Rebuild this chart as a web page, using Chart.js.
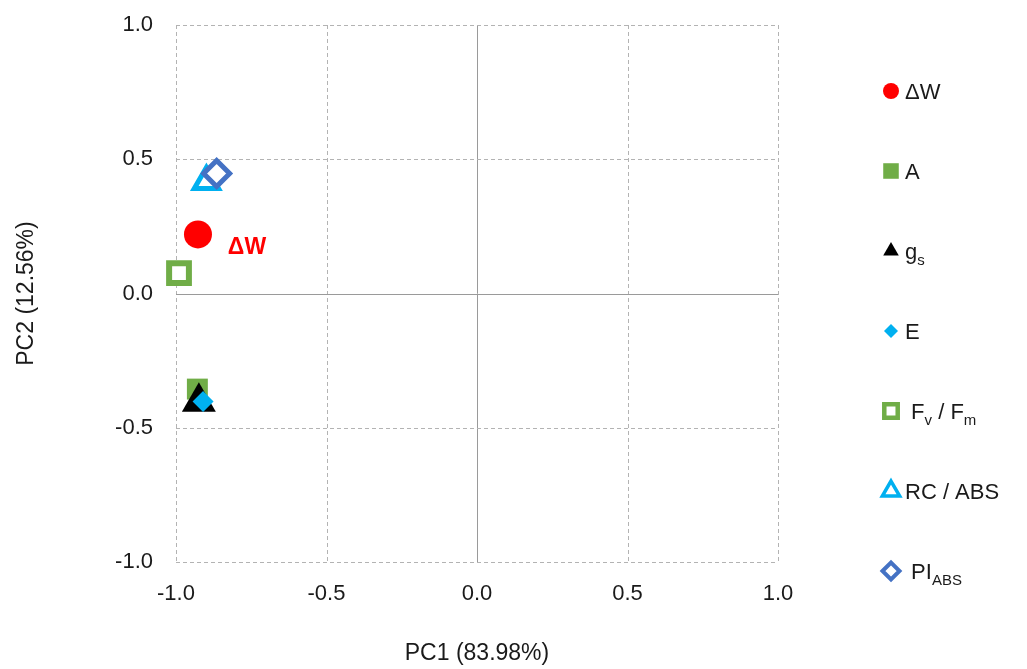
<!DOCTYPE html>
<html>
<head>
<meta charset="utf-8">
<script src="https://cdn.jsdelivr.net/npm/chart.js"></script>
<style>
  html, body { margin: 0; padding: 0; background: #fff; }
  #wrap { width: 1027px; height: 669px; position: relative; }
</style>
</head>
<body>
<div id="wrap"><canvas id="c"></canvas></div>
<script>
// ---- data ----
const seriesNames = ['ΔW', 'A', 'gs', 'E', 'Fv / Fm', 'RC / ABS', 'PIABS'];
const pc1 = [-0.927, -0.929, -0.924, -0.910, -0.990, -0.899, -0.865];
const pc2 = [0.220, -0.356, -0.404, -0.402, 0.076, 0.417, 0.447];
const axisTicks = [-1.0, -0.5, 0.0, 0.5, 1.0];
const xTitle = 'PC1 (83.98%)';
const yTitle = 'PC2 (12.56%)';
// legend text with subscripts: [text, isSubscript]
const legendParts = [
  [['ΔW', 0]],
  [['A', 0]],
  [['g', 0], ['s', 1]],
  [['E', 0]],
  [[' F', 0], ['v', 1], [' / F', 0], ['m', 1]],
  [['RC / ABS', 0]],
  [[' PI', 0], ['ABS', 1]]
];
const pointLabelText = 'ΔW';

// ---- styles ----
const FONT = '"Liberation Sans", Arial, sans-serif';
const styles = [
  { pointStyle: 'circle',   radius: 14,  bg: '#FF0000', border: '#FF0000', bw: 0,   lr: 8,  lbw: 0 },
  { pointStyle: 'rect',     radius: 14.8,bg: '#70AD47', border: '#70AD47', bw: 0,   lr: 11, lbw: 0 },
  { pointStyle: 'triangle', radius: 19.6,bg: '#000000', border: '#000000', bw: 0,   lr: 9,  lbw: 0 },
  { pointStyle: 'rectRot',  radius: 10.5,bg: '#00B0F0', border: '#00B0F0', bw: 0,   lr: 7,  lbw: 0 },
  { pointStyle: 'rect',     radius: 14,  bg: '#FFFFFF', border: '#70AD47', bw: 6,   lr: 9.5,lbw: 4.5 },
  { pointStyle: 'triangle', radius: 14,  bg: '#FFFFFF', border: '#00B0F0', bw: 5,   lr: 10, lbw: 3.5 },
  { pointStyle: 'rectRot',  radius: 13,  bg: '#FFFFFF', border: '#4472C4', bw: 5,   lr: 8.5,lbw: 4 }
];

const datasets = seriesNames.map((name, i) => ({
  label: name,
  data: [{ x: pc1[i], y: pc2[i] }],
  pointStyle: styles[i].pointStyle,
  pointRadius: styles[i].radius,
  pointHoverRadius: styles[i].radius,
  pointBackgroundColor: styles[i].bg,
  pointBorderColor: styles[i].border,
  pointBorderWidth: styles[i].bw,
  showLine: false,
  order: seriesNames.length - i,
  clip: false
}));

// grid lines drawn from the scales' ticks
const gridPlugin = {
  id: 'dashGrid',
  beforeDatasetsDraw(chart) {
    const { ctx, chartArea: a, scales: { x, y } } = chart;
    ctx.save();
    ctx.lineWidth = 1;
    const line = (x1, y1, x2, y2, solid) => {
      ctx.beginPath();
      ctx.setLineDash(solid ? [] : [4, 3]);
      ctx.strokeStyle = solid ? '#9a9a9a' : '#b3b3b3';
      ctx.moveTo(x1, y1); ctx.lineTo(x2, y2); ctx.stroke();
    };
    x.ticks.forEach(t => {
      const px = Math.round(x.getPixelForValue(t.value)) + 0.5;
      line(px, a.top, px, a.bottom, Math.abs(t.value) < 1e-9);
    });
    y.ticks.forEach(t => {
      const py = Math.round(y.getPixelForValue(t.value)) + 0.5;
      line(a.left, py, a.right, py, Math.abs(t.value) < 1e-9);
    });
    ctx.restore();
  }
};

const labelPlugin = {
  id: 'pointLabel',
  afterDatasetsDraw(chart) {
    const { ctx } = chart;
    const el = chart.getDatasetMeta(0).data[0];
    if (!el) return;
    ctx.save();
    ctx.font = 'bold 23px ' + FONT;
    ctx.fillStyle = '#FF0000';
    ctx.textAlign = 'center';
    ctx.textBaseline = 'middle';
    ctx.fillText(pointLabelText, el.x + 49, el.y + 13);
    ctx.restore();
  }
};

const legendPlugin = {
  id: 'customLegend',
  afterDraw(chart) {
    const { ctx } = chart;
    const mx = 891, tx = 905, y0 = 91, dy = 80;
    ctx.save();
    chart.data.datasets.forEach((ds, i) => {
      const yy = y0 + i * dy;
      const s = styles[i];
      ctx.fillStyle = s.bg;
      ctx.strokeStyle = s.border;
      ctx.lineWidth = s.lbw;
      ctx.setLineDash([]);
      if (Chart.helpers && Chart.helpers.drawPoint) {
        Chart.helpers.drawPoint(ctx, { pointStyle: s.pointStyle, radius: s.lr, rotation: 0, borderWidth: s.lbw }, mx, yy);
      }
      let x = tx;
      ctx.textBaseline = 'alphabetic';
      ctx.textAlign = 'left';
      ctx.fillStyle = '#1a1a1a';
      legendParts[i].forEach(([txt, sub]) => {
        ctx.font = (sub ? '15px ' : '22px ') + FONT;
        ctx.fillText(txt, x, yy + 8 + (sub ? 6 : 0));
        x += ctx.measureText(txt).width;
      });
    });
    ctx.restore();
  }
};

new Chart(document.getElementById('c'), {
  type: 'scatter',
  data: { datasets },
  options: {
    responsive: true,
    maintainAspectRatio: false,
    animation: false,
    layout: { autoPadding: false, padding: { top: 25, right: 249, left: 0, bottom: 0 } },
    plugins: { legend: { display: false }, tooltip: { enabled: false } },
    scales: {
      x: {
        type: 'linear', min: -1, max: 1,
        afterBuildTicks: s => { s.ticks = axisTicks.map(v => ({ value: v })); },
        afterFit: s => { s.height = 107; s.paddingLeft = 0; s.paddingRight = 0; },
        grid: { display: false, drawTicks: false },
        border: { display: false },
        ticks: { padding: 19, color: '#1a1a1a', font: { family: FONT, size: 22 }, callback: v => Number(v).toFixed(1) },
        title: { display: true, text: xTitle, color: '#1a1a1a', font: { family: FONT, size: 23 }, padding: { top: 0, bottom: 2 } }
      },
      y: {
        type: 'linear', min: -1, max: 1,
        afterBuildTicks: s => { s.ticks = axisTicks.map(v => ({ value: v })); },
        afterFit: s => { s.width = 176; s.paddingTop = 0; s.paddingBottom = 0; },
        grid: { display: false, drawTicks: false },
        border: { display: false },
        ticks: { padding: 23, color: '#1a1a1a', font: { family: FONT, size: 22 }, callback: v => Number(v).toFixed(1) },
        title: { display: true, text: yTitle, color: '#1a1a1a', font: { family: FONT, size: 23 }, padding: { top: 13, bottom: 0 } }
      }
    }
  },
  plugins: [gridPlugin, labelPlugin, legendPlugin]
});
</script>
</body>
</html>
